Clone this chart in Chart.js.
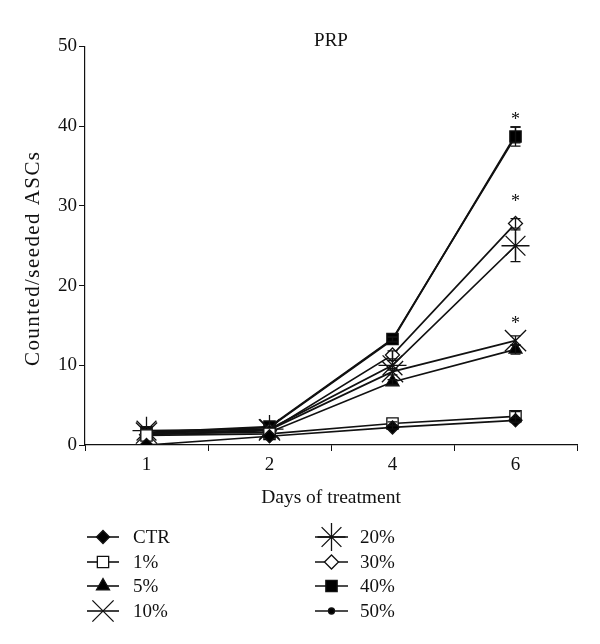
<!DOCTYPE html>
<html><head><meta charset="utf-8">
<script src="https://cdn.jsdelivr.net/npm/chart.js@4"></script>
<style>html,body{margin:0;padding:0;background:#fff}</style>
</head><body>
<canvas id="c" width="600" height="644"></canvas>
<script>
// ---- data ----
const days = ['1', '2', '4', '6'];
const seriesNames = ['CTR', '1%', '5%', '10%', '20%', '30%', '40%', '50%'];
const ctrVals  = [0.0, 1.1, 2.2, 3.1];
const p1Vals   = [1.2, 1.4, 2.7, 3.6];
const p5Vals   = [1.4, 1.6, 7.9, 12.0];
const p10Vals  = [1.5, 1.9, 9.2, 13.1];
const p20Vals  = [1.8, 2.0, 10.0, 25.0];
const p30Vals  = [1.3, 1.8, 11.3, 27.8];
const p40Vals  = [1.6, 2.3, 13.3, 38.7];
const p50Vals  = [1.5, 2.2, 13.2, 38.9];
const ctrErr = [0, 0, 0.2, 0.3];
const p1Err  = [0, 0, 0.2, 0.6];
const p5Err  = [0, 0, 0.3, 0.6];
const p10Err = [0, 0, 0.4, 0.6];
const p20Err = [0, 0, 0.6, 2.0];
const p30Err = [0, 0, 0.5, 0.6];
const p40Err = [0, 0, 0.3, 1.2];
const p50Err = [0, 0, 0.3, 1.0];
const yTicks = [0, 10, 20, 30, 40, 50];
const sigDay = '6';
const sigLevels = [41.2, 31.0, 15.7];
const yTitle = 'Counted/seeded ASCs';

const allVals = [ctrVals, p1Vals, p5Vals, p10Vals, p20Vals, p30Vals, p40Vals, p50Vals];
const allErr = [ctrErr, p1Err, p5Err, p10Err, p20Err, p30Err, p40Err, p50Err];

const styles = [
  {pointStyle: 'rectRot', r: 6.5, fill: '#000'},
  {pointStyle: 'rect', r: 8, fill: '#fff'},
  {pointStyle: 'triangle', r: 7.5, fill: '#000'},
  {pointStyle: 'crossRot', r: 15, fill: '#000'},
  {pointStyle: 'star', r: 14, fill: '#000'},
  {pointStyle: 'rectRot', r: 7, fill: '#fff'},
  {pointStyle: 'rect', r: 8, fill: '#000'},
  {pointStyle: 'circle', r: 3, fill: '#000'}
];

const FONT = "'Liberation Serif', 'Times New Roman', serif";
const INK = '#111';

const datasets = seriesNames.map((name, i) => ({
  label: name,
  data: allVals[i],
  err: allErr[i],
  borderColor: INK,
  borderWidth: 1.7,
  pointStyle: styles[i].pointStyle,
  pointRadius: styles[i].r,
  pointHoverRadius: styles[i].r,
  pointBackgroundColor: styles[i].fill,
  pointBorderColor: INK,
  pointBorderWidth: 1.3,
  fill: false,
  tension: 0
}));

const errorBars = {
  id: 'errorBars',
  afterDatasetsDraw(chart) {
    const ctx = chart.ctx, y = chart.scales.y;
    ctx.save();
    ctx.strokeStyle = INK; ctx.lineWidth = 1.3;
    chart.data.datasets.forEach((ds, i) => {
      const meta = chart.getDatasetMeta(i);
      meta.data.forEach((pt, j) => {
        const e = ds.err[j];
        if (!e) return;
        const v = ds.data[j];
        const yt = y.getPixelForValue(v + e), yb = y.getPixelForValue(v - e);
        ctx.beginPath();
        ctx.moveTo(pt.x, yt); ctx.lineTo(pt.x, yb);
        ctx.moveTo(pt.x - 5, yt); ctx.lineTo(pt.x + 5, yt);
        ctx.moveTo(pt.x - 5, yb); ctx.lineTo(pt.x + 5, yb);
        ctx.stroke();
      });
    });
    ctx.restore();
  }
};

const sigMarks = {
  id: 'sigMarks',
  afterDatasetsDraw(chart) {
    const ctx = chart.ctx, x = chart.scales.x, y = chart.scales.y;
    ctx.save();
    ctx.fillStyle = INK;
    ctx.font = '18px ' + FONT;
    ctx.textAlign = 'center'; ctx.textBaseline = 'middle';
    const px = x.getPixelForValue(days.indexOf(sigDay));
    sigLevels.forEach(v => ctx.fillText('*', px, y.getPixelForValue(v) + 4));
    ctx.restore();
  }
};

const yTitlePlugin = {
  id: 'yTitlePlugin',
  afterDraw(chart) {
    const ctx = chart.ctx;
    ctx.save();
    ctx.fillStyle = INK;
    ctx.font = '21px ' + FONT;
    ctx.translate(33, 259);
    ctx.rotate(-Math.PI / 2);
    const base = ctx.measureText(yTitle).width;
    const target = 214;
    const n = yTitle.length - 1;
    ctx.textBaseline = 'middle';
    let xx = -target / 2;
    const extra = Math.max(0, (target - base) / n);
    for (const ch of yTitle) {
      ctx.fillText(ch, xx, 0);
      xx += ctx.measureText(ch).width + extra;
    }
    ctx.restore();
  }
};

const customLegend = {
  id: 'customLegend',
  afterDraw(chart) {
    const ctx = chart.ctx;
    const cols = [{x0: 87, x1: 119, tx: 133}, {x0: 315, x1: 348, tx: 360}];
    const rows = [537, 562, 586, 611];
    ctx.save();
    chart.data.datasets.forEach((ds, i) => {
      const c = cols[Math.floor(i / 4)], yy = rows[i % 4];
      ctx.strokeStyle = INK; ctx.lineWidth = 1.6;
      ctx.beginPath(); ctx.moveTo(c.x0, yy); ctx.lineTo(c.x1, yy); ctx.stroke();
      ctx.fillStyle = ds.pointBackgroundColor; ctx.strokeStyle = INK; ctx.lineWidth = 1.3;
      Chart.helpers.drawPoint(ctx, {pointStyle: ds.pointStyle, radius: ds.pointRadius, rotation: 0, borderWidth: 1.3}, (c.x0 + c.x1) / 2, yy);
      ctx.fillStyle = INK;
      ctx.font = '19px ' + FONT;
      ctx.textAlign = 'left'; ctx.textBaseline = 'middle';
      ctx.fillText(ds.label, c.tx, yy + 1);
    });
    ctx.restore();
  }
};

new Chart(document.getElementById('c'), {
  type: 'line',
  data: {labels: days, datasets},
  plugins: [errorBars, sigMarks, yTitlePlugin, customLegend],
  options: {
    responsive: false,
    animation: false,
    events: [],
    layout: {padding: {left: 0, right: 23, top: 0, bottom: 129}},
    plugins: {
      legend: {display: false},
      tooltip: {enabled: false},
      title: {
        display: true, text: 'PRP', fullSize: false, color: INK,
        font: {family: FONT, size: 19, weight: 'normal', lineHeight: 0.5},
        padding: {top: 36.5, bottom: 0.5}
      }
    },
    scales: {
      x: {
        type: 'category', offset: true,
        afterFit(s) { s.height = 70; },
        grid: {display: true, offset: true, drawOnChartArea: false, drawTicks: true, tickLength: 6, color: INK, lineWidth: 1},
        border: {display: true, color: INK, width: 1.2},
        ticks: {color: INK, padding: 3, font: {family: FONT, size: 19}},
        title: {display: true, text: 'Days of treatment', color: INK, font: {family: FONT, size: 19.5, lineHeight: 1.2}, padding: {top: 0, bottom: 5}}
      },
      y: {
        min: 0, max: 50,
        afterFit(s) { s.width = 85; },
        afterBuildTicks(s) { s.ticks = yTicks.map(v => ({value: v})); },
        grid: {display: true, drawOnChartArea: false, drawTicks: true, tickLength: 6, color: INK, lineWidth: 1},
        border: {display: true, color: INK, width: 1.2},
        ticks: {color: INK, padding: 2, font: {family: FONT, size: 19}},
        title: {display: false}
      }
    }
  }
});
</script>
</body></html>
